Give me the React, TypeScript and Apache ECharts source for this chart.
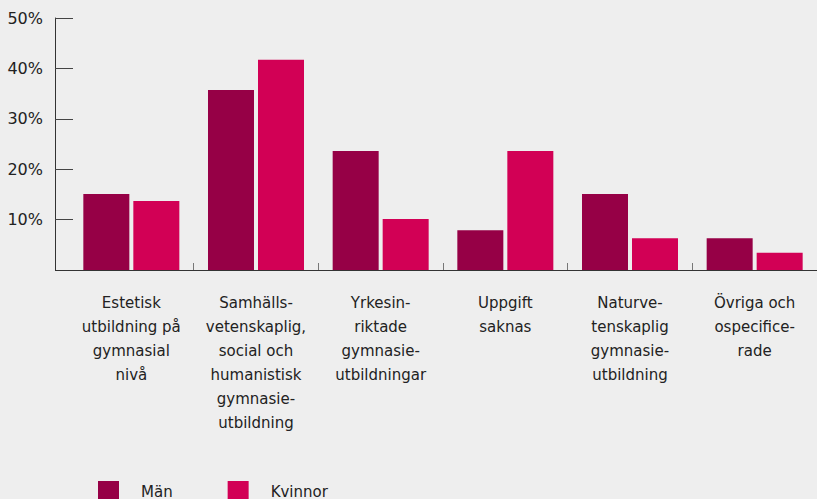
import React, { useEffect, useRef } from "react";
import * as echarts from "echarts";

const categories = [
  "Estetisk\nutbildning på\ngymnasial\nnivå",
  "Samhälls-\nvetenskaplig,\nsocial och\nhumanistisk\ngymnasie-\nutbildning",
  "Yrkesin-\nriktade\ngymnasie-\nutbildningar",
  "Uppgift\nsaknas",
  "Naturve-\ntenskaplig\ngymnasie-\nutbildning",
  "Övriga och\nospecifice-\nrade",
];
const man = [15.1, 35.7, 23.6, 7.9, 15.1, 6.3];
const kvinnor = [13.7, 41.7, 10.1, 23.6, 6.3, 3.4];
const seriesNames = ["Män", "Kvinnor"];
const colors = ["#960046", "#d20055"];

export default function App() {
  const ref = useRef<HTMLDivElement>(null);
  useEffect(() => {
    if (!ref.current) return;
    const chart = echarts.init(ref.current, undefined, { renderer: "svg" });
    const font = "DejaVu Sans";
    chart.setOption({
      animation: false,
      backgroundColor: "#eeeeee",
      textStyle: { fontFamily: font },
      grid: { left: 69, right: -8, top: 18, bottom: 229, containLabel: false },
      legend: {
        left: 98,
        top: 481,
        padding: 0,
        itemWidth: 21,
        itemHeight: 21,
        itemGap: 55,
        icon: "rect",
        data: seriesNames,
        formatter: (name: string) => `{g|}{t|${name}}`,
        textStyle: {
          fontFamily: font,
          rich: {
            g: { width: 17, height: 21 },
            t: { fontSize: 15, color: "#222", fontFamily: font },
          },
        },
      },
      xAxis: {
        type: "category",
        data: categories,
        axisLine: { lineStyle: { color: "#333", width: 1 } },
        axisTick: {
          show: true,
          inside: true,
          length: 7,
          interval: (index: number) => index !== 0,
          lineStyle: { color: "#777" },
        },
        axisLabel: {
          interval: 0,
          fontSize: 15,
          lineHeight: 24,
          color: "#222",
          margin: 21,
          fontFamily: font,
        },
      },
      yAxis: {
        type: "value",
        min: 0,
        max: 50,
        interval: 10,
        offset: 14,
        splitLine: { show: false },
        axisLine: { show: true, lineStyle: { color: "#333" } },
        axisTick: { show: true, inside: true, length: 18, lineStyle: { color: "#444" } },
        axisLabel: {
          showMinLabel: false,
          formatter: (v: number) => (v === 0 ? "" : v + "%"),
          fontSize: 16,
          color: "#222",
          margin: 12,
          fontFamily: font,
        },
      },
      graphic: [
        {
          type: "line",
          shape: { x1: 55, y1: 270.5, x2: 70, y2: 270.5 },
          style: { stroke: "#333", lineWidth: 1 },
        },
      ],
      series: [
        {
          name: seriesNames[0],
          type: "bar",
          data: man,
          barWidth: 46,
          barGap: "8.7%",
          itemStyle: { color: colors[0] },
        },
        {
          name: seriesNames[1],
          type: "bar",
          data: kvinnor,
          barWidth: 46,
          barGap: "8.7%",
          itemStyle: { color: colors[1] },
        },
      ],
    });
    return () => chart.dispose();
  }, []);
  return <div ref={ref} style={{ width: 817, height: 499, position: "absolute", left: 0, top: 0 }} />;
}
